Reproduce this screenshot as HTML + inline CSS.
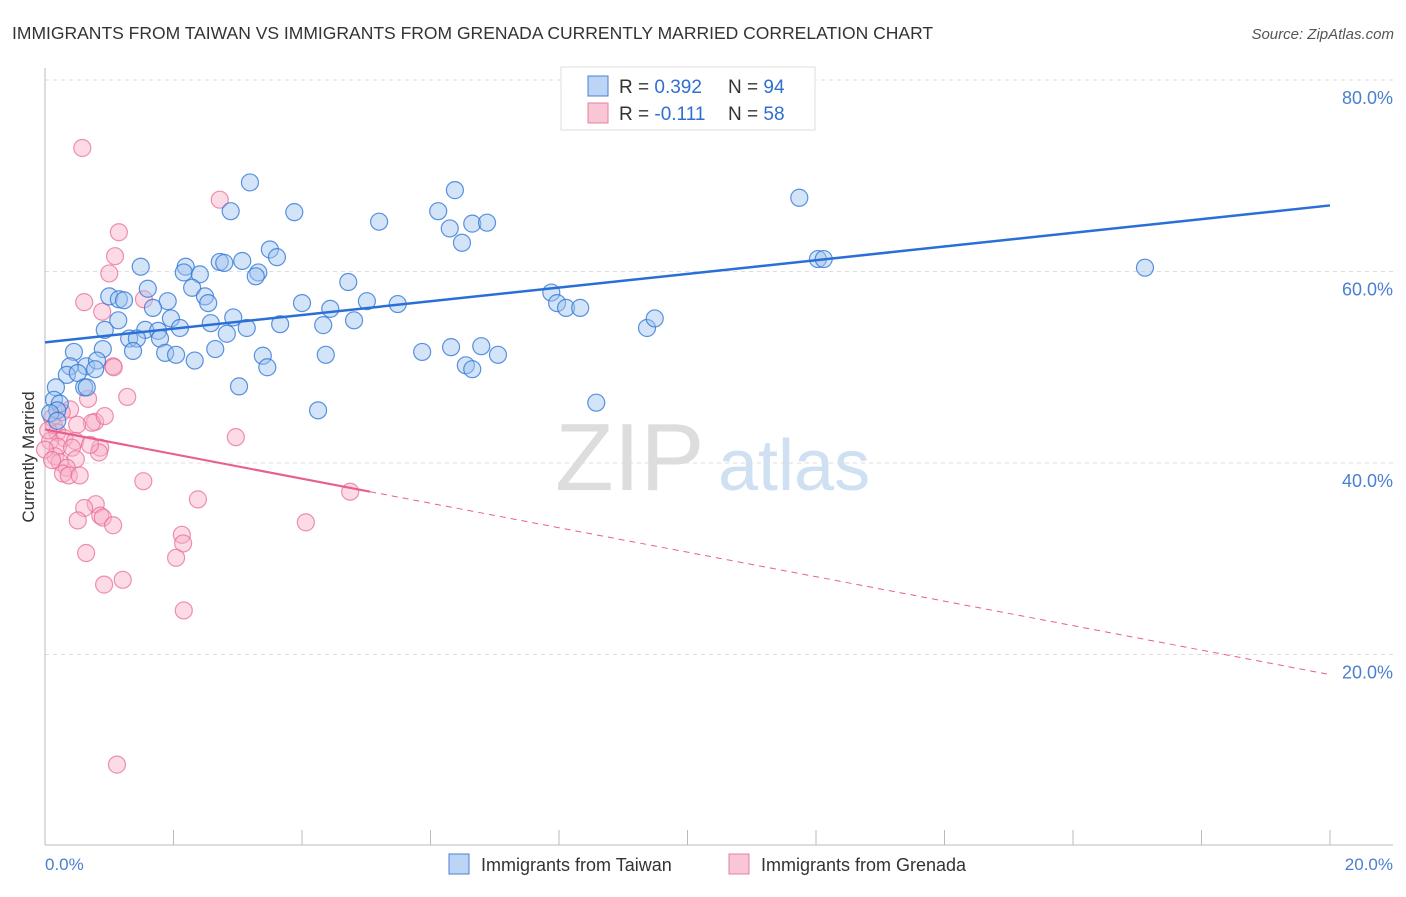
<!DOCTYPE html>
<html><head><meta charset="utf-8"><style>
body{margin:0;background:#fff;font-family:"Liberation Sans",sans-serif;}
svg text{font-family:"Liberation Sans",sans-serif;}
</style></head><body>
<svg width="1406" height="892" xmlns="http://www.w3.org/2000/svg">
<text x="12" y="39" font-size="17.5" fill="#333">IMMIGRANTS FROM TAIWAN VS IMMIGRANTS FROM GRENADA CURRENTLY MARRIED CORRELATION CHART</text>
<text x="1394" y="39" font-size="15" fill="#555" font-style="italic" text-anchor="end">Source: ZipAtlas.com</text>
<g id="grid"></g>
<g><text x="555" y="490" font-size="96" fill="#ddd" font-family="Liberation Serif">ZIP</text><text x="718" y="490" font-size="72" fill="#cfe0f3">atlas</text></g>
<line x1="45" y1="68" x2="45" y2="845" stroke="#bbb"/>
<line x1="45" y1="845" x2="1393" y2="845" stroke="#bbb"/>
<text x="34" y="457" font-size="17" fill="#333" text-anchor="middle" transform="rotate(-90 34 457)">Currently Married</text>
<text x="45" y="870" font-size="17" fill="#4a7fd0">0.0%</text>
<text x="1393" y="870" font-size="17" fill="#4a7fd0" text-anchor="end">20.0%</text>
<g id="pts"></g>
<g id="lines"></g>
<g>
<rect x="561" y="67" width="254" height="63" fill="#fff" stroke="#ddd"/>
<rect x="588" y="76" width="20" height="20" fill="#bcd4f5" stroke="#4a7fd0"/>
<rect x="588" y="103" width="20" height="20" fill="#f9c6d6" stroke="#e87fa0"/>
<text x="619" y="93" font-size="19" fill="#333">R = <tspan fill="#2f6fd0">0.392</tspan><tspan x="728">N = </tspan><tspan fill="#2f6fd0">94</tspan></text>
<text x="619" y="120" font-size="19" fill="#333">R = <tspan fill="#2f6fd0"> -0.111</tspan><tspan x="728">N = </tspan><tspan fill="#2f6fd0">58</tspan></text>
</g>
<g>
<rect x="449" y="854" width="20" height="20" fill="#bcd4f5" stroke="#4a7fd0"/>
<text x="481" y="871" font-size="18" fill="#333">Immigrants from Taiwan</text>
<rect x="729" y="854" width="20" height="20" fill="#f9c6d6" stroke="#e87fa0"/>
<text x="761" y="871" font-size="18" fill="#333">Immigrants from Grenada</text>
</g>
</svg>
<script>
const yTicks=[20,40,60,80];
const xTicks=[0,2,4,6,8,10,12,14,16,18,20];
const bluePx=[[250,182],[231,211],[294,212],[141,267],[186,267],[184,272],[200,274],[220,262],[224,263],[242,261],[270,249],[277,257],[258,272],[256,276],[148,289],[192,288],[205,296],[208,303],[109,296],[119,299],[124,300],[168,301],[153,308],[171,318],[118,320],[233,317],[211,323],[180,328],[105,330],[145,330],[158,331],[227,334],[247,328],[280,324],[302,303],[330,309],[348,282],[367,301],[398,304],[323,325],[354,320],[129,339],[137,339],[160,339],[103,349],[133,351],[165,353],[176,355],[195,361],[215,349],[263,356],[267,367],[326,355],[74,352],[70,366],[67,375],[86,366],[97,361],[95,369],[78,373],[84,387],[87,387],[56,387],[54,400],[60,404],[57,410],[50,413],[57,421],[239,386],[318,410],[379,222],[438,211],[455,190],[450,228],[472,224],[487,223],[462,243],[551,293],[557,303],[566,308],[580,308],[422,352],[451,347],[481,346],[466,365],[472,369],[498,355],[596,403],[647,328],[655,318],[799,198],[818,259],[824,259],[1145,268]];
const pinkPx=[[82,148],[220,200],[119,232],[115,256],[109,273],[84,302],[102,312],[144,299],[113,366],[114,367],[127,397],[88,399],[70,409],[95,422],[92,423],[105,416],[77,425],[52,418],[54,426],[57,432],[64,438],[75,441],[50,441],[58,447],[72,448],[100,448],[99,452],[55,456],[60,462],[76,459],[67,468],[63,474],[69,475],[236,437],[143,481],[198,499],[96,504],[84,508],[78,520],[100,516],[103,518],[113,525],[182,535],[183,543],[176,558],[86,553],[123,580],[104,585],[184,610],[350,492],[306,522],[117,765],[45,450],[48,430],[52,460],[62,412],[90,445],[80,475]];
// data values (x in %, y in %)
const taiwanX=bluePx.map(p=>+((p[0]-45)/64.25).toFixed(2));
const taiwanY=bluePx.map(p=>+((846-p[1])/9.575).toFixed(1));
const grenadaX=pinkPx.map(p=>+((p[0]-45)/64.25).toFixed(2));
const grenadaY=pinkPx.map(p=>+((846-p[1])/9.575).toFixed(1));
const taiwanTrend=[[0,52.6],[20,66.9]];
const grenadaTrend=[[0,43.5],[5.06,37.0],[20,17.9]];
const sx=v=>45+v*64.25, sy=v=>846-v*9.575;
const NS="http://www.w3.org/2000/svg";
const grid=document.getElementById('grid');
yTicks.forEach(t=>{
 const l=document.createElementNS(NS,'line');
 l.setAttribute('x1',45);l.setAttribute('x2',1393);l.setAttribute('y1',sy(t));l.setAttribute('y2',sy(t));
 l.setAttribute('stroke','#ddd');l.setAttribute('stroke-dasharray','4,4');
 
 
 grid.appendChild(l);
 const tx=document.createElementNS(NS,'text');
 tx.setAttribute('x',1393);tx.setAttribute('y',sy(t)+24);tx.setAttribute('text-anchor','end');
 tx.setAttribute('font-size','18');tx.setAttribute('fill','#4a7fd0');tx.textContent=t.toFixed(1)+'%';
 
 
 grid.appendChild(tx);
});
xTicks.forEach(t=>{
 const l=document.createElementNS(NS,'line');
 l.setAttribute('x1',sx(t));l.setAttribute('x2',sx(t));l.setAttribute('y1',830);l.setAttribute('y2',845);
 l.setAttribute('stroke','#bbb');
 
 
 grid.appendChild(l);
});
const pts=document.getElementById('pts');
function dots(X,Y,fill,stroke,name){
 X.forEach((x,i)=>{
  const c=document.createElementNS(NS,'circle');
  c.setAttribute('cx',sx(x));c.setAttribute('cy',sy(Y[i]));c.setAttribute('r',8.5);
  c.setAttribute('fill',fill);c.setAttribute('stroke',stroke);c.setAttribute('stroke-width','1.2');
  
  
  pts.appendChild(c);
 });
}
dots(grenadaX,grenadaY,'rgba(248,176,200,0.45)','rgba(232,110,150,0.75)','point-grenada');
dots(taiwanX,taiwanY,'rgba(160,196,240,0.45)','rgba(50,120,215,0.8)','point-taiwan');
const lines=document.getElementById('lines');
function seg(a,b,color,w,dash,name){
 const l=document.createElementNS(NS,'line');
 l.setAttribute('x1',sx(a[0]));l.setAttribute('y1',sy(a[1]));l.setAttribute('x2',sx(b[0]));l.setAttribute('y2',sy(b[1]));
 l.setAttribute('stroke',color);l.setAttribute('stroke-width',w);
 if(dash)l.setAttribute('stroke-dasharray',dash);
 
 
 lines.appendChild(l);
}
seg(taiwanTrend[0],taiwanTrend[1],'#2a6fd6',2.5,null,'trend-line-taiwan');
seg(grenadaTrend[0],grenadaTrend[1],'#e8608e',2.2,null,'trend-line-grenada');
seg(grenadaTrend[1],grenadaTrend[2],'#e8608e',1,'6,5','trend-line-grenada-extrapolated');
</script>
</body></html>
